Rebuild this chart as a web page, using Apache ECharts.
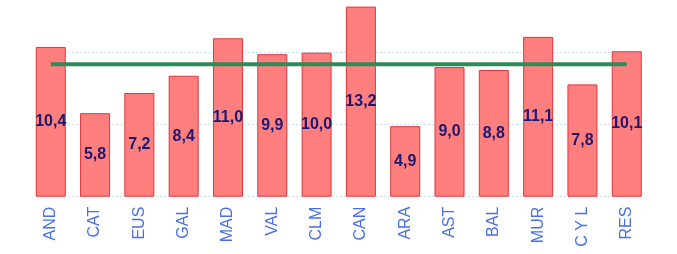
<!DOCTYPE html>
<html><head><meta charset="utf-8">
<script src="https://cdn.jsdelivr.net/npm/echarts@6/dist/echarts.min.js"></script>
<style>html,body{margin:0;padding:0;background:#fff}#c{width:677px;height:254px}</style>
</head><body><div id="c"></div>
<script>
const categories = ['AND','CAT','EUS','GAL','MAD','VAL','CLM','CAN','ARA','AST','BAL','MUR','C Y L','RES'];
const values = [10.4,5.8,7.2,8.4,11.0,9.9,10.0,13.2,4.9,9.0,8.8,11.1,7.8,10.1];
const average = [9.2,9.2,9.2,9.2,9.2,9.2,9.2,9.2,9.2,9.2,9.2,9.2,9.2,9.2];

const chart = echarts.init(document.getElementById('c'), null, {renderer:'canvas'});
chart.setOption({
  animation:false,
  backgroundColor:'#ffffff',
  grid:[
    {left:28.6,right:28.1,height:216,bottom:57.3,containLabel:false,outerBoundsMode:'none'},
    {left:36,right:35,height:216,bottom:57.3,containLabel:false,outerBoundsMode:'none'}
  ],
  xAxis:[
    {type:'category',data:categories,gridIndex:0,
     axisLine:{show:false},axisTick:{show:false},
     axisLabel:{rotate:90,color:'#4a6fe3',fontFamily:'Liberation Sans, Arial',fontSize:16,margin:10}},
    {type:'value',gridIndex:1,min:0,max:1,show:false}
  ],
  yAxis:[
    {type:'value',gridIndex:0,min:0,max:15,interval:5,
     axisLabel:{show:false},axisLine:{show:false},axisTick:{show:false},splitLine:{show:false}},
    {type:'value',gridIndex:1,min:0,max:15,interval:5,z:0,
     axisLabel:{show:false},axisLine:{show:false},axisTick:{show:false},
     splitLine:{show:true,lineStyle:{color:'#c9e3ee',type:[2,2],width:1}}}
  ],
  series:[
    {type:'bar',data:values,barWidth:30,z:2,xAxisIndex:0,yAxisIndex:0,
     itemStyle:{color:'#ff7f7f',borderColor:'#e5333b',borderWidth:1},
     label:{show:true,position:'inside',color:'#1c1870',fontWeight:'bold',fontSize:16,
       fontFamily:'Liberation Sans, Arial',
       formatter:p=>p.value.toFixed(1).replace('.',',')}},
    {type:'line',data:average,symbol:'none',z:5,xAxisIndex:0,yAxisIndex:0,
     lineStyle:{color:'#2e8b57',width:4}}
  ]
});
</script></body></html>
